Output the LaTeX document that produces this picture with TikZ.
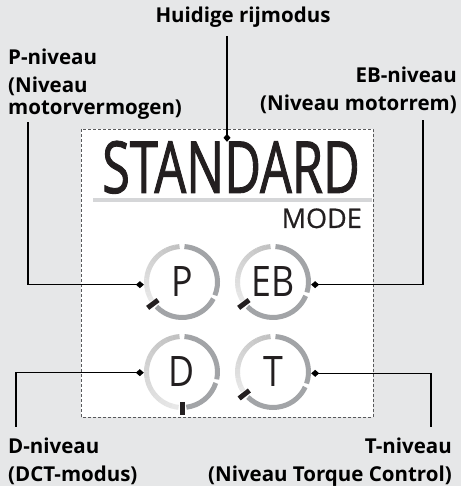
\documentclass[tikz,border=0pt]{standalone}
\usepackage{fontspec}
\setmainfont{Open Sans}
\newfontfamily\stdfont[FakeStretch=0.70,FakeBold=1.2]{Open Sans}
\newfontfamily\modefont[FakeBold=0.6]{Open Sans}
\newfontfamily\dialfont[FakeStretch=0.85]{Open Sans}
\usepackage{tikz}
\usetikzlibrary{
arrows.meta,
positioning,
calc
}
\definecolor{BgGray}{HTML}{E6E7E8}
\definecolor{FrameGray}{HTML}{58595B}
\definecolor{RuleGray}{HTML}{D5D6D8}
\definecolor{RingDark}{HTML}{A2A4A7}
\definecolor{InkBlack}{HTML}{231F20}

\begin{document}
\begin{tikzpicture}[x=1pt,y=1pt,
    every node/.style={inner sep=0pt, text=InkBlack},
    callout/.style={font=\fontsize{20.5}{28}\selectfont\bfseries, text=black},
    dial/.style={circle, minimum size=76pt, font=\dialfont\fontsize{42}{42}\selectfont},
    ringdark/.style={draw=RingDark, line width=5pt},
    dialtick/.style={draw=InkBlack, line width=5pt},
    lead/.style={draw=black, line width=1.6pt}]
        \useasboundingbox (0,0) rectangle (461,486);
        \fill[BgGray] (0,0) rectangle (461,486);
        % display panel
        \draw[FrameGray, fill=white, line width=0.8pt, dash pattern=on 3pt off 2pt] (81,69) rectangle (373,357);
        \node[anchor=base, text height=51pt, text depth=0pt, font=\stdfont\fontsize{72}{72}\selectfont] (std) at (231,293) {STANDARD};
        \draw[RuleGray, line width=4pt] (93,286) -- (372,286);
        \node[anchor=base east, font=\modefont\fontsize{27}{27}\selectfont] (mode) at (362,258) {MODE};
        \node[dial] (P) at (182,204) {P};
        \node[dial] (EB) at (273,204) {EB};
        \node[dial] (D) at (182,114) {D};
        \node[dial] (T) at (273,114) {T};
        % rings: light part up to the tick, dark part after it
        \foreach \g/\tick/\gap in {P/217/-25, EB/217/-20, D/270/-15, T/218/-22} {
            \pgfmathsetmacro{\lstep}{(\tick-100)/16}
            \foreach \i in {0,...,15} {
                \pgfmathsetmacro{\a}{94+\i*\lstep}
                \pgfmathsetmacro{\shade}{24-15*\i/15}
                \draw[draw=black!\shade, line width=5pt] ([shift={(\a:35.5)}]\g.center) arc[start angle=\a, delta angle=\lstep+0.4, radius=35.5];
            }
            \draw[ringdark] ([shift={({\tick+7}:35.5)}]\g.center) arc[start angle=\tick+7, end angle=357+\gap, radius=35.5];
            \draw[ringdark] ([shift={({\gap+3}:35.5)}]\g.center) arc[start angle=\gap+3, end angle=86, radius=35.5];
            \draw[dialtick] ([shift={(\tick:30)}]\g.center) -- ([shift={(\tick:43)}]\g.center);
        }
        % callouts
        \node[callout, anchor=base] (rijlab) at (243,463) {Huidige rijmodus};
        \node[callout, anchor=north west, align=left] (plab) at (8,437) {P-niveau\\(Niveau\\[-6pt]motorvermogen)};
        \node[callout, anchor=north east, align=right] (eblab) at (457,419) {EB-niveau\\(Niveau motorrem)};
        \node[callout, anchor=north west, align=left] (dlab) at (8,48) {D-niveau\\(DCT-modus)};
        \node[callout, anchor=north east, align=right] (tlab) at (452,48) {T-niveau\\(Niveau Torque Control)};
        \coordinate (rijend) at (227,450);
        \coordinate (pend) at (28,364);
        \coordinate (ebend) at (423,366);
        \coordinate (dend) at (16,59);
        \coordinate (tend) at (431,59);
        \draw[lead, -{Diamond[length=8pt,width=7pt]}] (rijend) -- (rijend |- std.north);
        \draw[lead, {Diamond[length=8pt,width=7pt]}-] (P.184) -| (pend);
        \draw[lead, {Diamond[length=8pt,width=7pt]}-] (EB.-4) -| (ebend);
        \draw[lead, {Diamond[length=8pt,width=7pt]}-] (D.181) -| (dend);
        \draw[lead, {Diamond[length=8pt,width=7pt]}-] (T.-2) -| (tend);
    \end{tikzpicture}
\end{document}
